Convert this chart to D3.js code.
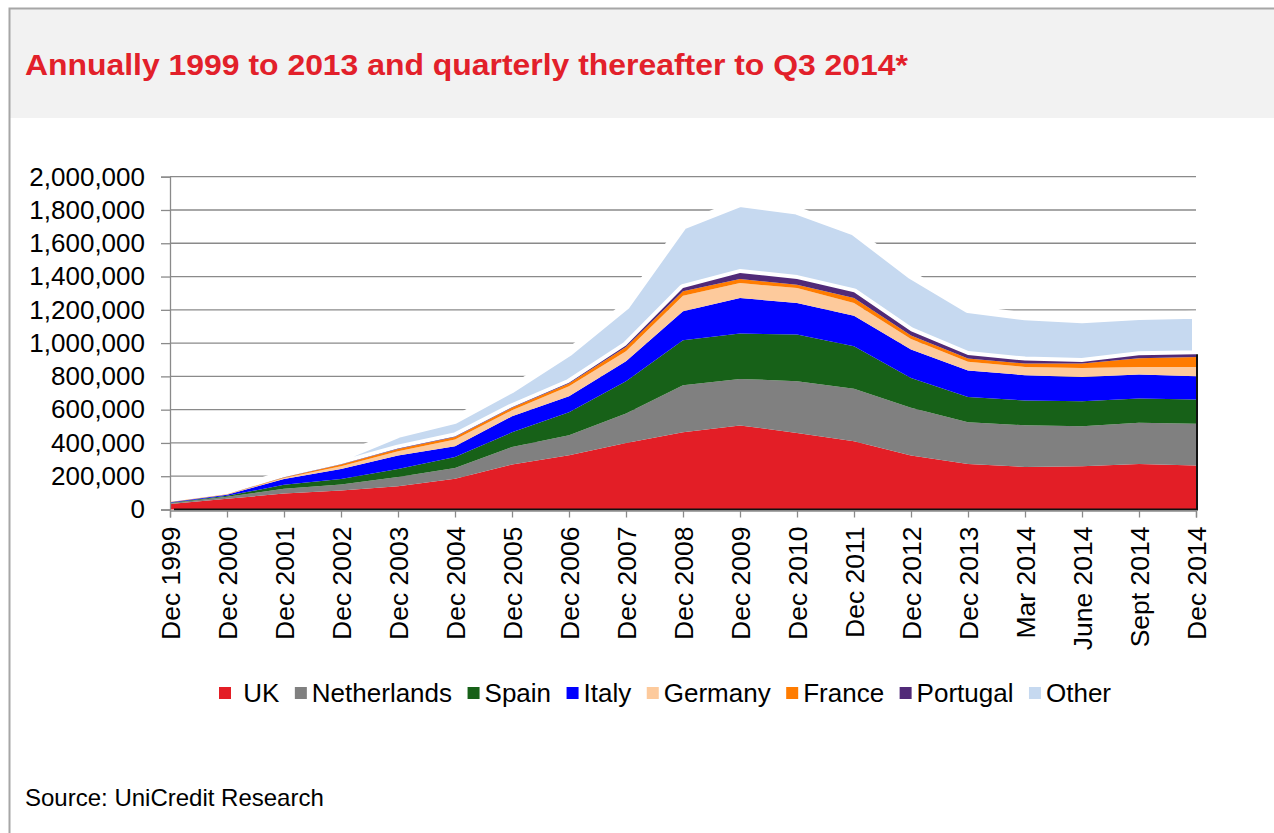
<!DOCTYPE html>
<html>
<head>
<meta charset="utf-8">
<script src="https://cdn.jsdelivr.net/npm/d3@7"></script>
<style>
  html, body { margin: 0; padding: 0; background: #ffffff; }
  svg { display: block; }
  text { font-family: "Liberation Sans", Arial, sans-serif; }
</style>
</head>
<body>
<svg id="chart" width="1274" height="833"></svg>
<script>
// ---------------- DATA ----------------
const categories = ["Dec 1999","Dec 2000","Dec 2001","Dec 2002","Dec 2003","Dec 2004","Dec 2005",
  "Dec 2006","Dec 2007","Dec 2008","Dec 2009","Dec 2010","Dec 2011","Dec 2012","Dec 2013",
  "Mar 2014","June 2014","Sept 2014","Dec 2014"];
const seriesNames = ["UK","Netherlands","Spain","Italy","Germany","France","Portugal","Other"];
const legendLabels = [" UK","Netherlands","Spain","Italy","Germany","France","Portugal","Other"];
const ukValues          = [33000,64000,96000,114000,140000,185000,270000,326000,400000,464000,505000,460000,410000,324000,273000,256000,260000,274000,264000];
const netherlandsValues = [5000,12000,28000,36000,56000,65000,106000,120000,177000,283000,280000,311000,315000,287000,252000,250000,240000,247000,251000];
const spainValues       = [3000,6000,24000,34000,48000,66000,88000,139000,194000,270000,272000,280000,256000,180000,151000,149000,151000,146000,146000];
const italyValues       = [2000,6000,36000,60000,80000,64000,96000,96000,120000,174000,214000,190000,184000,170000,160000,152000,146000,144000,140000];
const germanyValues     = [1000,2000,6000,16000,26000,40000,36000,60000,60000,94000,90000,90000,76000,64000,52000,50000,54000,46000,56000];
const franceValues      = [500,1000,3000,10000,14000,16000,15000,16000,26000,26000,24000,20000,30000,20000,19000,20000,26000,52000,60000];
const portugalValues    = [500,500,1000,2000,2000,3000,3000,4000,8000,20000,36000,34000,34000,26000,21000,18000,10000,18000,16000];
const otherValues       = [0,4000,20000,40000,88000,100000,111000,184000,240000,375000,421000,411000,365000,338000,276000,266000,256000,236000,238000];
const yTickValues = [0,200000,400000,600000,800000,1000000,1200000,1400000,1600000,1800000,2000000];
const titleText = "Annually 1999 to 2013 and quarterly thereafter to Q3 2014*";
const sourceText = "Source: UniCredit Research";

const seriesColors = {
  "UK": "#e31e26", "Netherlands": "#808080", "Spain": "#176118", "Italy": "#0000ff",
  "Germany": "#fdca9c", "France": "#ff7c00", "Portugal": "#512a78", "Other": "#c6d9f0"
};

// -------------- BUILD TABLE --------------
const valueArrays = [ukValues, netherlandsValues, spainValues, italyValues, germanyValues, franceValues, portugalValues, otherValues];
const table = categories.map((c, i) => {
  const row = { cat: c };
  seriesNames.forEach((s, k) => { row[s] = valueArrays[k][i]; });
  return row;
});

const svg = d3.select("#chart");
const W = 1274, H = 833;
const FONT = "\"Liberation Sans\", Arial, sans-serif";

// frame + header
svg.append("rect").attr("x", 9).attr("y", 8).attr("width", W).attr("height", 110).attr("fill", "#f2f2f2");
svg.append("path").attr("d", `M9.5,${H} L9.5,8.5 L${W},8.5`).attr("fill", "none").attr("stroke", "#a6a6a6").attr("stroke-width", 2);

svg.append("text").attr("x", 25).attr("y", 75).text(titleText)
  .attr("fill", "#e2202a").attr("font-weight", "bold").attr("font-size", 30)
  .attr("textLength", 883).attr("lengthAdjust", "spacingAndGlyphs");

svg.append("text").attr("x", 25).attr("y", 806).text(sourceText)
  .attr("fill", "#000").attr("font-size", 24);

// scales
const x = d3.scalePoint().domain(categories).range([170, 1196]);
const y = d3.scaleLinear().domain([0, 2000000]).range([509.5, 176.7]);

// gridlines
svg.append("g").selectAll("line").data(yTickValues.filter(v => v > 0)).join("line")
  .attr("x1", 170).attr("x2", 1196).attr("y1", d => y(d)).attr("y2", d => y(d))
  .attr("stroke", "#8a8a8a").attr("stroke-width", 1.3);

// stack
const stack = d3.stack().keys(seriesNames);
const layers = stack(table);
const area = d3.area()
  .x(d => x(d.data.cat))
  .y0(d => y(d[0]))
  .y1(d => y(d[1]));

const g = svg.append("g");
// "Other" first, with white halo edge
const otherLayer = layers.find(l => l.key === "Other");
g.append("path").datum(otherLayer).attr("d", area)
  .attr("fill", seriesColors.Other).attr("stroke", "#ffffff").attr("stroke-width", 8)
  .attr("stroke-linejoin", "round");
layers.filter(l => l.key !== "Other").forEach(l => {
  g.append("path").datum(l).attr("d", area).attr("fill", seriesColors[l.key]);
});

// dark shadow edge on right and bottom
const lastCat = categories[categories.length - 1];
const portugalLayer = layers.find(l => l.key === "Portugal");
const topRight = portugalLayer[portugalLayer.length - 1][1];
svg.append("path")
  .attr("d", `M${x(lastCat) + 1},${y(topRight)} L${x(lastCat) + 1},${y(0)} L${x(categories[0]) + 4},${y(0)}`)
  .attr("fill", "none").attr("stroke", "#111").attr("stroke-width", 2);

// y axis
const yAxis = d3.axisLeft(y).tickValues(yTickValues).tickSize(9).tickPadding(16)
  .tickFormat(d3.format(","));
const yg = svg.append("g").attr("transform", "translate(170,0)").call(yAxis);
yg.select(".domain").attr("stroke", "#8a8a8a").attr("stroke-width", 1.3);
yg.selectAll(".tick line").attr("stroke", "#8a8a8a").attr("stroke-width", 1.3);
yg.selectAll(".tick text").attr("font-family", FONT).attr("font-size", 26).attr("fill", "#000");

// x axis
const xAxis = d3.axisBottom(x).tickSize(7).tickPadding(0);
const xg = svg.append("g").attr("transform", `translate(0,${y(0) + 1})`).call(xAxis);
xg.select(".domain").attr("stroke", "#8a8a8a").attr("stroke-width", 1.3);
xg.selectAll(".tick line").attr("stroke", "#8a8a8a").attr("stroke-width", 1.3);
xg.selectAll(".tick text")
  .attr("font-family", FONT).attr("font-size", 26.5).attr("fill", "#000")
  .attr("text-anchor", "end")
  .attr("transform", "translate(0,16) rotate(-90)")
  .attr("x", 0).attr("y", 0).attr("dy", "0.36em");

// legend
const legend = svg.append("g");
const items = seriesNames.map((s, i) => ({ name: s, label: legendLabels[i] }));
const legendStart = 219, legendEnd = 1111, markerSize = 12, markerGap = 5;
items.forEach(it => {
  const t = legend.append("text").text(it.label).attr("font-size", 26).attr("fill", "#000")
    .style("white-space", "pre");
  it.node = t; it.w = t.node().getComputedTextLength();
});
const totalFixed = d3.sum(items, it => markerSize + markerGap + it.w);
const itemGap = (legendEnd - legendStart - totalFixed) / (items.length - 1);
let cx = legendStart;
items.forEach(it => {
  legend.append("rect").attr("x", cx).attr("y", 687).attr("width", markerSize).attr("height", markerSize)
    .attr("fill", seriesColors[it.name]);
  it.node.attr("x", cx + markerSize + markerGap).attr("y", 693).attr("dy", "0.36em");
  cx += markerSize + markerGap + it.w + itemGap;
});
</script>
</body>
</html>
